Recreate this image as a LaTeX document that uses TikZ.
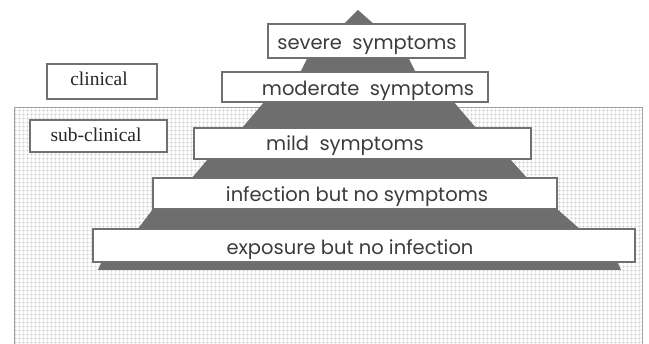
\documentclass[tikz,border=0pt]{standalone}
\usepackage{fontspec}
\setmainfont{Liberation Serif}
\newfontfamily\geofont{Poppins}
\usetikzlibrary{patterns}
\definecolor{pyr}{HTML}{6E6E6E}
\definecolor{boxline}{HTML}{707070}
\definecolor{txt}{HTML}{3C3C3C}
\pgfdeclarepatternformonly{finegrid}{\pgfqpoint{0pt}{0pt}}{\pgfqpoint{3.6pt}{3.6pt}}{\pgfqpoint{3.6pt}{3.6pt}}{%
  \pgfsetlinewidth{0.7pt}%
  \pgfpathmoveto{\pgfqpoint{0pt}{1.8pt}}\pgfpathlineto{\pgfqpoint{3.6pt}{1.8pt}}%
  \pgfpathmoveto{\pgfqpoint{1.8pt}{0pt}}\pgfpathlineto{\pgfqpoint{1.8pt}{3.6pt}}%
  \pgfusepath{stroke}}
\tikzset{
  band/.style={fill=pyr, draw=none},
  tierbox/.style={draw=boxline, line width=1.2pt, fill=white, inner sep=0pt},
  tierlbl/.style={font=\geofont\fontsize{19.5}{19.5}\selectfont, text=txt, anchor=base, inner sep=0pt},
  sidelbl/.style={font=\fontsize{19.5}{19.5}\selectfont, text=black!85, anchor=base, inner sep=0pt},
}
\begin{document}
\begin{tikzpicture}[x=1pt, y=-1pt]
\clip (0,0) rectangle (649,344);
\fill[white] (0,0) rectangle (649,344);
% sub-clinical region
\fill[white] (14,108) rectangle (642,360);
\fill[pattern=finegrid, pattern color=gray!36] (14,108) rectangle (642,360);
\draw[gray!75, line width=1pt] (14,108) rectangle (642,360);
% pyramid bands
\fill[band] (358,10) -- (376,26) -- (342,26) -- cycle;
\fill[band] (308,57) -- (408,57) -- (416,73) -- (300,73) -- cycle;
\fill[band] (265,101) -- (453,101) -- (476,128) -- (242,128) -- cycle;
\fill[band] (208,159) -- (510,159) -- (528,179) -- (191,179) -- cycle;
\fill[band] (153,209) -- (557,209) -- (581,230) -- (137,230) -- cycle;
\fill[band] (102,261) -- (617,261) -- (621,270) -- (98,270) -- cycle;
% tier boxes
\node[tierbox, minimum width=197, minimum height=34] (severe) at (366.5,41) {};
\node[tierbox, minimum width=266, minimum height=30] (moderate) at (355,87) {};
\node[tierbox, minimum width=337, minimum height=31] (mild) at (362.5,143.5) {};
\node[tierbox, minimum width=404, minimum height=31] (infection) at (355,193.5) {};
\node[tierbox, minimum width=542, minimum height=33] (exposure) at (364,245.5) {};
\node[tierlbl] (severeT) at (367,50) {severe\ \ symptoms};
\node[tierlbl] (moderateT) at (368,95.5) {moderate\ \ symptoms};
\node[tierlbl] (mildT) at (345,150.5) {mild\ \ symptoms};
\node[tierlbl] (infectionT) at (357,201.5) {infection but no symptoms};
\node[tierlbl] (exposureT) at (350,254.5) {exposure but no infection};
% side labels
\node[tierbox, minimum width=110, minimum height=35] (clinical) at (102,81.5) {};
\node[sidelbl] (clinicalT) at (99,86) {clinical};
\node[tierbox, minimum width=137, minimum height=32] (subclinical) at (98.5,136) {};
\node[sidelbl] (subclinicalT) at (96,141.5) {sub-clinical};
\end{tikzpicture}
\end{document}
